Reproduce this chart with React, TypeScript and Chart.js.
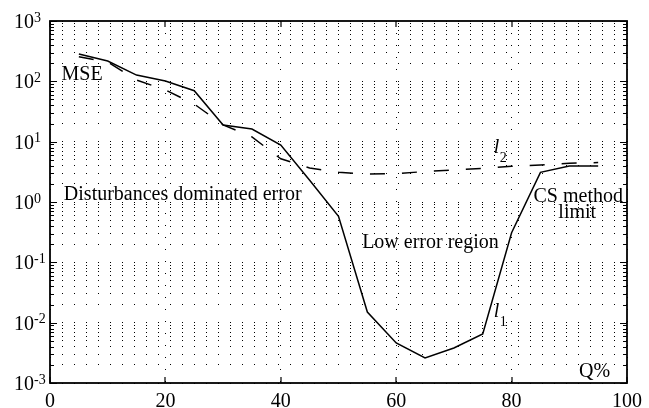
import React, { useEffect, useRef } from "react";
import { Chart, registerables } from "chart.js";

Chart.register(...registerables);

// ---- data ----
const qPercent = [5, 10, 15, 20, 25, 30, 35, 40, 45, 50, 55, 60, 65, 70, 75, 80, 85, 90, 95];
const mseL1 = [284, 217, 127, 101, 70, 18.9, 16.2, 8.8, 2.3, 0.58, 0.015, 0.0046, 0.0026, 0.0038, 0.0065, 0.31, 3.1, 3.95, 3.95];
const mseL2 = [256, 209, 105, 72, 42, 19, 12, 5.2, 3.66, 3.1, 2.9, 2.95, 3.2, 3.4, 3.6, 3.9, 4.1, 4.4, 4.5];
const xTickValues = [0, 20, 40, 60, 80, 100];
const yDecadeExponents = [-3, -2, -1, 0, 1, 2, 3];
const yMinorMultipliers = [2, 3, 4, 5, 6, 7, 8, 9];
const xAxisTitle = "Q%";

const textLabels = [
  { text: "MSE", x: 2.0, y: 105 },
  { text: "Disturbances dominated error", x: 2.4, y: 1.08 },
  { text: "Low error region", x: 54.1, y: 0.173 },
  { text: "CS method", x: 83.8, y: 1.0 },
  { text: "limit", x: 88.1, y: 0.543 },
  { text: xAxisTitle, x: 91.7, y: 0.00126 },
];
const curveLabels = [
  { main: "l", sub: "2", x: 76.9, y: 6.49 },
  { main: "l", sub: "1", x: 76.9, y: 0.0124 },
];

const FONT = '"Liberation Serif", "Times New Roman", serif';

const yTickValues: number[] = [];
yDecadeExponents.forEach((e) => {
  yTickValues.push(Math.pow(10, e));
  if (e < yDecadeExponents[yDecadeExponents.length - 1]) {
    yMinorMultipliers.forEach((m) => yTickValues.push(m * Math.pow(10, e)));
  }
});

const decorPlugin = {
  id: "decor",
  afterDraw(chart: any) {
    const { ctx, chartArea } = chart;
    const xs = chart.scales.x;
    const ys = chart.scales.y;
    const { left, right, top, bottom } = chartArea;
    ctx.save();
    ctx.strokeStyle = "#000";
    ctx.fillStyle = "#000";
    // frame
    ctx.lineWidth = 1.8;
    ctx.setLineDash([]);
    ctx.strokeRect(left, top, right - left, bottom - top);
    // x ticks (inside, top and bottom)
    ctx.lineWidth = 1.2;
    ctx.beginPath();
    xTickValues.forEach((v) => {
      const px = Math.round(xs.getPixelForValue(v));
      ctx.moveTo(px, bottom);
      ctx.lineTo(px, bottom - 6);
      ctx.moveTo(px, top);
      ctx.lineTo(px, top + 6);
    });
    // y ticks (inside, left and right)
    yTickValues.forEach((v) => {
      const py = Math.round(ys.getPixelForValue(v)) + 0.5;
      const isMajor = Math.abs(Math.log10(v) - Math.round(Math.log10(v))) < 1e-9;
      const len = isMajor ? 7 : 4;
      ctx.moveTo(left, py);
      ctx.lineTo(left + len, py);
      ctx.moveTo(right, py);
      ctx.lineTo(right - len, py);
    });
    ctx.stroke();

    // y tick labels 10^k
    yDecadeExponents.forEach((e) => {
      const py = ys.getPixelForValue(Math.pow(10, e));
      ctx.font = `20px ${FONT}`;
      ctx.textAlign = "right";
      ctx.textBaseline = "alphabetic";
      ctx.fillText("10", 34, py + 7);
      ctx.font = `14px ${FONT}`;
      ctx.textAlign = "left";
      ctx.fillText(String(e), 34, py + 0.5);
    });

    // annotations
    ctx.textBaseline = "alphabetic";
    ctx.textAlign = "left";
    ctx.font = `20px ${FONT}`;
    textLabels.forEach((t) => {
      ctx.fillText(t.text, xs.getPixelForValue(t.x), ys.getPixelForValue(t.y));
    });
    curveLabels.forEach((t) => {
      const px = xs.getPixelForValue(t.x);
      const py = ys.getPixelForValue(t.y);
      ctx.font = `italic 20px ${FONT}`;
      ctx.fillText(t.main, px, py);
      const w = ctx.measureText(t.main).width;
      ctx.font = `14px ${FONT}`;
      ctx.fillText(t.sub, px + w + 0.5, py + 9);
    });
    ctx.restore();
  },
};

export default function App() {
  const ref = useRef<HTMLCanvasElement | null>(null);
  useEffect(() => {
    if (!ref.current) return;
    const chart = new Chart(ref.current, {
      type: "line",
      data: {
        datasets: [
          {
            label: "l1",
            data: qPercent.map((x, i) => ({ x, y: mseL1[i] })),
            borderColor: "#000",
            borderWidth: 1.5,
            pointRadius: 0,
            tension: 0,
            fill: false,
          },
          {
            label: "l2",
            data: qPercent.map((x, i) => ({ x, y: mseL2[i] })),
            borderColor: "#000",
            borderWidth: 1.5,
            borderDash: [15, 17],
            pointRadius: 0,
            tension: 0,
            fill: false,
          },
        ],
      },
      options: {
        responsive: false,
        animation: false,
        devicePixelRatio: 1,
        layout: { padding: { left: 0, right: 19, top: 21, bottom: 0 } },
        plugins: { legend: { display: false }, tooltip: { enabled: false } },
        scales: {
          x: {
            type: "linear",
            min: 0,
            max: 100,
            afterBuildTicks: (scale: any) => {
              scale.ticks = xTickValues.map((v) => ({ value: v }));
            },
            afterFit: (scale: any) => {
              scale.height = 25;
            },
            ticks: {
              font: { family: FONT, size: 20 },
              color: "#000",
              padding: 7,
              maxRotation: 0,
              autoSkip: false,
            },
            grid: { color: "#000", lineWidth: 1, drawTicks: false, tickLength: 0 },
            border: { display: false, dash: [1, 11] },
          },
          y: {
            type: "logarithmic",
            min: 1e-3,
            max: 1e3,
            afterBuildTicks: (scale: any) => {
              scale.ticks = yTickValues.map((v) => ({ value: v }));
            },
            afterFit: (scale: any) => {
              scale.width = 50;
            },
            ticks: { display: false },
            grid: { color: "#000", lineWidth: 1, drawTicks: false, tickLength: 0 },
            border: { display: false, dash: [1, 11] },
          },
        },
      },
      plugins: [decorPlugin],
    });
    return () => chart.destroy();
  }, []);
  return (
    <div style={{ position: "fixed", left: 0, top: 0, width: 649, height: 408, background: "#fff" }}>
      <canvas ref={ref} width={649} height={408} style={{ display: "block" }} />
    </div>
  );
}
